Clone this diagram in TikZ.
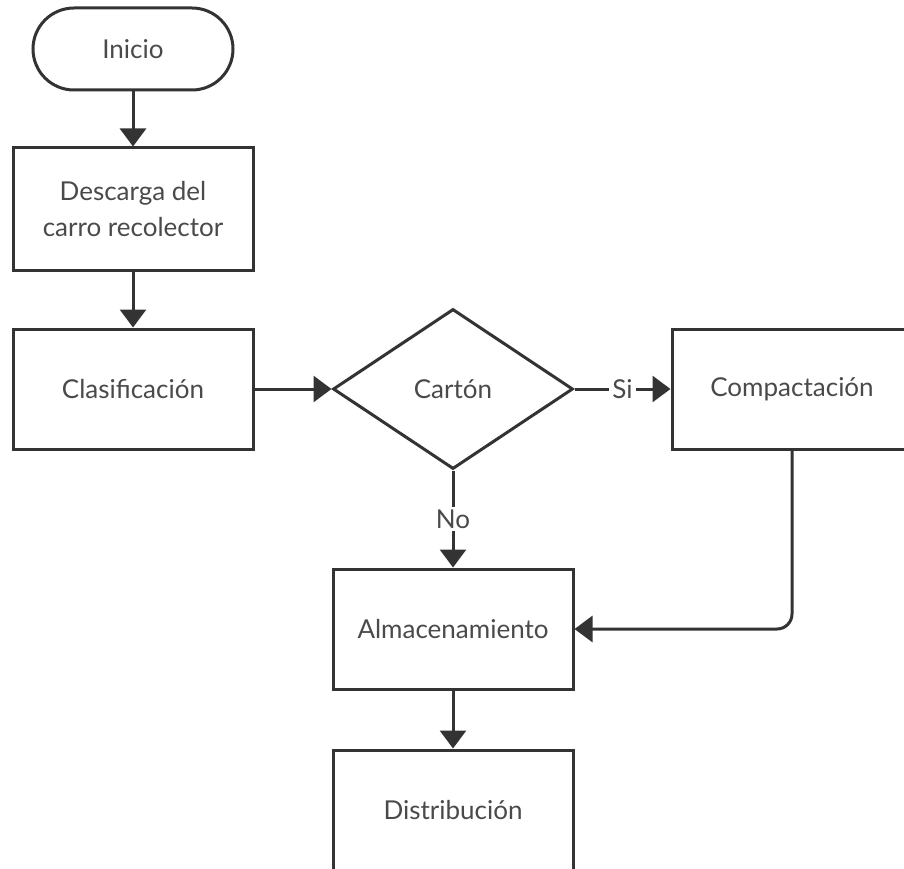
\documentclass[tikz,border=0pt]{standalone}
\usepackage{fontspec}
\setmainfont{Lato}
\usetikzlibrary{arrows.meta,shapes.geometric}
\definecolor{linec}{HTML}{333333}
\definecolor{textc}{HTML}{4A4A4A}
\tikzset{
  base/.style={draw=linec, line width=3pt, fill=white, text=textc, font=\fontsize{26}{36}\selectfont, align=center, inner sep=0pt},
  procbox/.style={base, rectangle, minimum width=240pt, minimum height=120pt},
  termbox/.style={base, rectangle, rounded corners=41pt, minimum width=200pt, minimum height=82pt},
  decbox/.style={base, diamond, aspect=1.5, minimum width=240pt, minimum height=160pt},
  conn/.style={draw=linec, line width=3pt, -{Triangle[length=18pt,width=26pt]}},
  lbl/.style={fill=white, text=textc, font=\fontsize{26}{30}\selectfont, inner sep=3pt}
}
\begin{document}
\begin{tikzpicture}[x=1pt,y=-1pt]
\useasboundingbox (0,0) rectangle (904,869);
\clip (0,0) rectangle (904,869);
\node[termbox] (inicio) at (133,49) {Inicio};
\node[procbox, minimum height=122pt] (descarga) at (133,209) {Descarga del\\carro recolector};
\node[procbox] (clasif) at (133,389) {Clasificación};
\node[decbox] (carton) at (453,389) {Cartón};
\node[procbox] (compact) at (792,389) {Compactación};
\node[procbox] (almac) at (453,629) {Almacenamiento};
\node[procbox] (distrib) at (453,810) {Distribución};
\draw[conn] (inicio) -- (descarga);
\draw[conn] (descarga) -- (clasif);
\draw[conn] (clasif) -- (carton);
\draw[conn] (carton.east) -- node[lbl] (si) {Si} (compact.west);
\draw[conn] (carton.south) -- node[lbl] (no) {No} (almac.north);
\draw[conn, rounded corners=15pt] (compact.south) -- (compact.south |- almac.east) -- (almac.east);
\draw[conn] (almac) -- (distrib);
\end{tikzpicture}
\end{document}
